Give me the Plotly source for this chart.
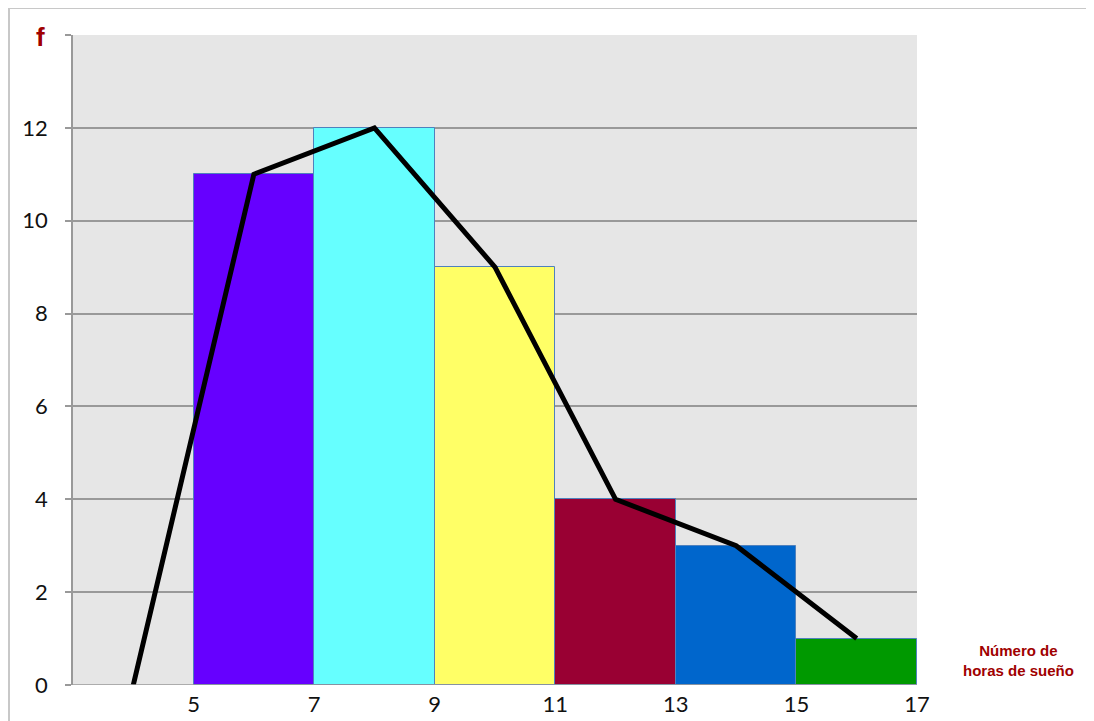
import plotly.graph_objects as go

# Data
class_mid = [6, 8, 10, 12, 14, 16]
freq = [11, 12, 9, 4, 3, 1]
bar_colors = ["#6600ff", "#66ffff", "#ffff66", "#990033", "#0066cc", "#009900"]
poly_x = [4, 6, 8, 10, 12, 14, 16]
poly_y = [0, 11, 12, 9, 4, 3, 1]
x_ticks = [5, 7, 9, 11, 13, 15, 17]
y_ticks = [0, 2, 4, 6, 8, 10, 12, 14]
y_tick_text = ["0", "2", "4", "6", "8", "10", "12", ""]

fig = go.Figure()
fig.add_trace(go.Bar(
    x=class_mid, y=freq, width=2,
    marker=dict(color=bar_colors, line=dict(color="#4f81bd", width=1)),
    hoverinfo="x+y", showlegend=False,
))
fig.add_trace(go.Scatter(
    x=poly_x, y=poly_y, mode="lines",
    line=dict(color="black", width=5),
    showlegend=False,
))

PW, PH = 844, 650
fig.update_layout(
    width=1094, height=721,
    margin=dict(l=65, r=1094 - 65 - PW, t=27, b=721 - 27 - PH),
    plot_bgcolor="#e6e6e6", paper_bgcolor="white",
    font=dict(family="Lato", size=22, color="#111"),
    bargap=0,
    xaxis=dict(range=[3, 17], tickvals=x_ticks, showgrid=False, zeroline=False,
               showline=False, ticks="", ticklabelstandoff=4,
               tickfont=dict(size=22, color="#111")),
    yaxis=dict(range=[0, 14], tickvals=y_ticks, ticktext=y_tick_text,
               showgrid=True, gridcolor="#999999", gridwidth=1.5,
               zeroline=False, showline=True, linecolor="#999999", linewidth=1.5,
               ticks="outside", ticklen=6, tickcolor="#999999", tickwidth=1.5,
               ticklabelstandoff=13, tickfont=dict(size=22, color="#111")),
    shapes=[
        dict(type="line", xref="paper", yref="y", x0=0, x1=1, y0=0, y1=0,
             line=dict(color="#999999", width=1.5), layer="above"),
        dict(type="rect", xref="paper", yref="paper",
             x0=-64 / PW, x1=1.3, y0=-0.2, y1=1 + 27 / PH,
             line=dict(color="#c8c8c8", width=2), fillcolor="rgba(0,0,0,0)"),
    ],
    annotations=[
        dict(text="<b>f</b>", xref="paper", yref="paper", x=-33 / PW, y=1 - 2.5 / PH,
             xanchor="center", yanchor="middle", showarrow=False,
             font=dict(family="Liberation Sans", size=26, color="#a00000")),
        dict(text="<b>Número de<br>horas de sueño</b>", xref="paper", yref="paper",
             x=1 + 101 / PW, y=25 / PH, xanchor="center", yanchor="middle",
             showarrow=False, align="center",
             font=dict(family="Liberation Sans", size=15, color="#a00000")),
    ],
)

fig.write_html("out.html")
